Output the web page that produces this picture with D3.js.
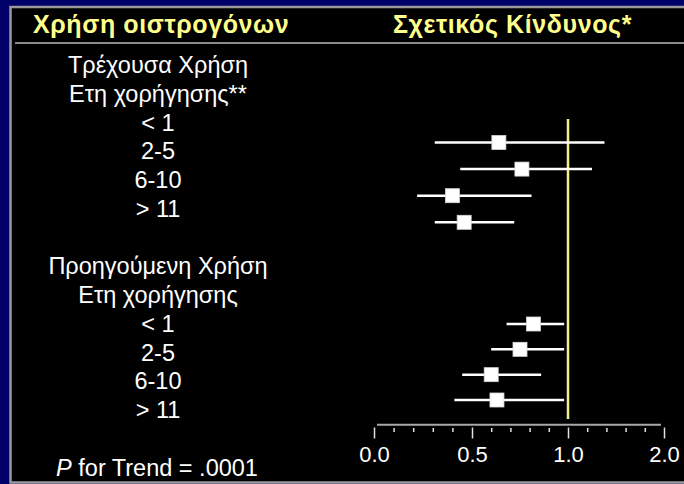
<!DOCTYPE html>
<html lang="el">
<head>
<meta charset="UTF-8" />
<title>Χρήση οιστρογόνων - Σχετικός Κίνδυνος</title>
<script src="https://d3js.org/d3.v7.min.js"></script>
<style>
  html, body { margin: 0; padding: 0; background: #000068; }
  svg { display: block; font-family: "Liberation Sans", Arial, sans-serif; }
</style>
</head>
<body>
<script>
// data
var headers = ["Χρήση οιστρογόνων", "Σχετικός Κίνδυνος*"];
var rowLabels = ["Τρέχουσα Χρήση", "Ετη χορήγησης**", "< 1", "2-5", "6-10", "> 11", "",
                 "Προηγούμενη Χρήση", "Ετη χορήγησης", "< 1", "2-5", "6-10", "> 11"];
var categories = ["< 1", "2-5", "6-10", "> 11"];

var currentRR   = [0.64, 0.76, 0.40, 0.46];
var currentLow  = [0.31, 0.44, 0.22, 0.31];
var currentHigh = [1.38, 1.25, 0.81, 0.72];

var pastRR   = [0.82, 0.75, 0.60, 0.63];
var pastLow  = [0.68, 0.60, 0.45, 0.41];
var pastHigh = [0.98, 0.98, 0.86, 0.98];

var majorTicks = [0, 0.5, 1, 2];
var tickLabels = ["0.0", "0.5", "1.0", "2.0"];
var minorTicks = [0.1, 0.2, 0.3, 0.4, 0.6, 0.7, 0.8, 0.9, 1.2, 1.4, 1.6, 1.8];

var w = 684;
var h = 484;

var svg = d3.select("body")
  .append("svg")
  .attr("width", w)
  .attr("height", h);

// black panel with grey frame
svg.append("rect")
  .attr("x", 10.5)
  .attr("y", 7)
  .attr("width", 690)
  .attr("height", 475.5)
  .attr("fill", "#000")
  .attr("stroke", "#9a9a9a")
  .attr("stroke-width", 2.5);

svg.append("line")
  .attr("x1", 15).attr("x2", w)
  .attr("y1", 43).attr("y2", 43)
  .attr("stroke", "#8c8c8c")
  .attr("stroke-width", 2);

svg.selectAll("text.header")
  .data(headers)
  .enter()
  .append("text")
  .attr("class", "header")
  .attr("x", function (d, i) { return i === 0 ? 33 : 393; })
  .attr("y", 33)
  .attr("fill", "#ffff8c")
  .attr("font-weight", "bold")
  .attr("font-size", "25px")
  .attr("letter-spacing", "0.6px")
  .text(function (d) { return d; });

// scales
var x = d3.scaleLinear()
  .domain(majorTicks)
  .range([374, 472, 568, 664]);

var lineY = d3.scaleLinear()
  .domain([0, 14])
  .range([73.3, 475.5]);

var yCurrent = d3.scalePoint().domain(categories).range([142.5, 222.3]);
var yPast = d3.scalePoint().domain(categories).range([324, 400]);

// left labels
svg.selectAll("text.row")
  .data(rowLabels)
  .enter()
  .append("text")
  .attr("class", "row")
  .attr("x", 158)
  .attr("y", function (d, i) { return lineY(i); })
  .attr("text-anchor", "middle")
  .attr("fill", "#fff")
  .attr("font-size", "23.5px")
  .text(function (d) { return d; });

var trend = svg.append("text")
  .attr("x", 157)
  .attr("y", lineY(14))
  .attr("text-anchor", "middle")
  .attr("fill", "#fff")
  .attr("font-size", "23.5px");
trend.append("tspan").attr("font-style", "italic").text("P");
trend.append("tspan").text(" for Trend = .0001");

// axis
svg.append("line")
  .attr("x1", x(0) + 3).attr("x2", x(2) - 3)
  .attr("y1", 424.7).attr("y2", 424.7)
  .attr("stroke", "#a8a8a8")
  .attr("stroke-width", 2);

var majorAxis = d3.axisBottom(x)
  .tickValues(majorTicks)
  .tickSize(11)
  .tickPadding(8)
  .tickFormat(function (d, i) { return tickLabels[i]; });

var gMajor = svg.append("g")
  .attr("transform", "translate(0,427.5)")
  .call(majorAxis);
gMajor.select(".domain").remove();
gMajor.selectAll("line").attr("stroke", "#e0e0e0").attr("stroke-width", 1.5);
gMajor.selectAll("text")
  .attr("fill", "#fff")
  .attr("font-size", "22px")
  .attr("font-family", "\"Liberation Sans\", Arial, sans-serif");

var gMinor = svg.append("g")
  .attr("transform", "translate(0,428)")
  .call(d3.axisBottom(x).tickValues(minorTicks).tickSize(4).tickFormat(""));
gMinor.select(".domain").remove();
gMinor.selectAll("line").attr("stroke", "#e0e0e0").attr("stroke-width", 1.5);

// reference line at RR = 1
svg.append("line")
  .attr("x1", x(1)).attr("x2", x(1))
  .attr("y1", 119).attr("y2", 419)
  .attr("stroke", "#f2f28c")
  .attr("stroke-width", 2.5);

function drawGroup(rr, lo, hi, yScale) {
  var rows = categories.map(function (c, i) {
    return { cat: c, rr: rr[i], lo: lo[i], hi: hi[i] };
  });
  var g = svg.append("g");
  g.selectAll("line")
    .data(rows)
    .enter()
    .append("line")
    .attr("x1", function (d) { return x(d.lo); })
    .attr("x2", function (d) { return x(d.hi); })
    .attr("y1", function (d) { return yScale(d.cat); })
    .attr("y2", function (d) { return yScale(d.cat); })
    .attr("stroke", "#fff")
    .attr("stroke-width", 2.5);
  g.selectAll("rect")
    .data(rows)
    .enter()
    .append("rect")
    .attr("x", function (d) { return x(d.rr) - 7; })
    .attr("y", function (d) { return yScale(d.cat) - 7; })
    .attr("width", 14)
    .attr("height", 14)
    .attr("fill", "#fff")
    .attr("stroke", "#d8d8d8")
    .attr("stroke-width", 0.8);
}

drawGroup(currentRR, currentLow, currentHigh, yCurrent);
drawGroup(pastRR, pastLow, pastHigh, yPast);
</script>
</body>
</html>
